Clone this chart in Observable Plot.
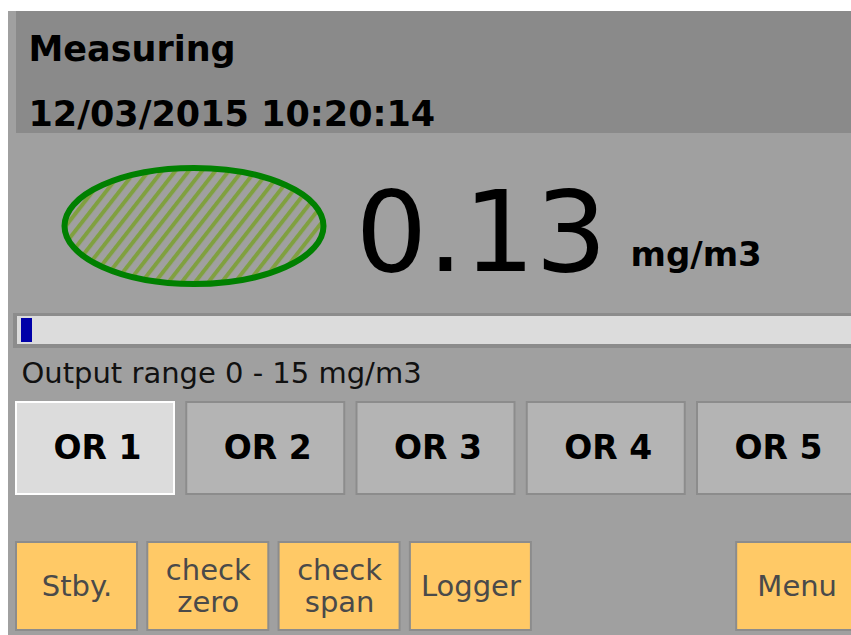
<!DOCTYPE html>
<html><head><meta charset="utf-8">
<script src="https://cdn.jsdelivr.net/npm/d3@7"></script>
<script src="https://cdn.jsdelivr.net/npm/@observablehq/plot@0.6"></script>
<style>html,body{margin:0;padding:0;background:#fff;overflow:hidden} svg{display:block}</style>
</head><body><div id="chart"></div>
<script>
// ---- data ----
const statusTitle = ["Measuring"];
const timestamp = ["12/03/2015 10:20:14"];
const reading = [0.13];
const unit = ["mg/m3"];
const outputRange = [0, 15];
const rangeButtons = ["OR 1", "OR 2", "OR 3", "OR 4", "OR 5"];
const activeRange = "OR 1";
const actionButtons = ["Stby.", "check\nzero", "check\nspan", "Logger", "Menu"];

// ---- layout ----
const W = 851, H = 635;
const FONT = "'DejaVu Sans', sans-serif";
const orX0 = 16, orStep = 170.25, orW = 158, orY1 = 402, orY2 = 494;
const actSlots = [0, 1, 2, 3, 5.485];
const actX0 = 16, actStep = 131.3, actW = 121, actY1 = 542, actY2 = 630;
const gauge = d3.scaleLinear().domain(outputRange).range([21, 851]);
const gaugeMinW = 11;
const mid = (baseline, fs, lh = 1) => baseline - 0.32 * lh * fs;

function statusLamp(index, scales) {
  const sx = scales.x || (v => v), sy = scales.y || (v => v);
  const g = d3.create("svg:g");
  const pat = g.append("defs").append("pattern")
    .attr("id", "hatch").attr("patternUnits", "userSpaceOnUse")
    .attr("width", 10.5).attr("height", 10.5)
    .attr("patternTransform", "rotate(38)");
  pat.append("rect").attr("width", 10.5).attr("height", 10.5).attr("fill", "#a0a0a0");
  pat.append("line").attr("x1", 2).attr("x2", 2).attr("y1", -1).attr("y2", 11.5)
    .attr("stroke", "#80a040").attr("stroke-width", 4);
  g.append("ellipse")
    .attr("cx", sx(194)).attr("cy", sy(226))
    .attr("rx", 129.5).attr("ry", 58)
    .attr("fill", "url(#hatch)").attr("stroke", "#008000").attr("stroke-width", 6);
  return g.node();
}

const chart = Plot.plot({
  width: W, height: H, margin: 0,
  x: {domain: [0, W], range: [0, W], axis: null},
  y: {domain: [0, H], range: [0, H], axis: null},
  style: {background: "transparent", fontFamily: FONT, overflow: "hidden"},
  marks: [
    // backgrounds
    Plot.rect([0], {x1: 8, x2: W, y1: 11, y2: H, fill: "#a0a0a0"}),
    Plot.rect([0], {x1: 16, x2: W, y1: 11, y2: 133, fill: "#8a8a8a"}),
    // header texts
    Plot.text(statusTitle, {x: 28, y: mid(60, 35), text: d => d, textAnchor: "start",
      fontSize: 35, fontWeight: "bold", fill: "#000"}),
    Plot.text(timestamp, {x: 28, y: mid(125, 35), text: d => d, textAnchor: "start",
      fontSize: 35, fontWeight: "bold", fill: "#000"}),
    // status lamp
    statusLamp,
    // reading
    Plot.text(reading, {x: 355, y: mid(270, 113), text: d => d.toFixed(2), textAnchor: "start",
      fontSize: 113, fill: "#000"}),
    Plot.text(unit, {x: 630, y: mid(265, 34), text: d => d, textAnchor: "start",
      fontSize: 34, fontWeight: "bold", fill: "#000"}),
    // gauge
    Plot.rect([0], {x1: 13, x2: W + 5, y1: 313, y2: 348, fill: "#8c8c8c"}),
    Plot.rect([0], {x1: 17, x2: W + 5, y1: 316, y2: 344, fill: "#dcdcdc"}),
    Plot.rect(reading, {x1: gauge(outputRange[0]), x2: d => Math.max(gauge(d), gauge(outputRange[0]) + gaugeMinW),
      y1: 318, y2: 342, fill: "#0000a8"}),
    Plot.text([`Output range ${outputRange[0]} - ${outputRange[1]} ${unit[0]}`], {x: 21, y: mid(382, 29),
      text: d => d, textAnchor: "start", fontSize: 29, fill: "#111"}),
    // output range buttons
    Plot.rect(rangeButtons, {filter: d => d !== activeRange,
      x1: (d) => orX0 + rangeButtons.indexOf(d) * orStep, x2: (d) => orX0 + rangeButtons.indexOf(d) * orStep + orW,
      y1: orY1, y2: orY2, fill: "#b4b4b4", stroke: "#8c8c8c", strokeWidth: 2}),
    Plot.rect(rangeButtons, {filter: d => d === activeRange,
      x1: (d) => orX0 + rangeButtons.indexOf(d) * orStep, x2: (d) => orX0 + rangeButtons.indexOf(d) * orStep + orW,
      y1: orY1, y2: orY2, fill: "#dcdcdc", stroke: "#ffffff", strokeWidth: 2}),
    Plot.text(rangeButtons, {x: (d, i) => orX0 + i * orStep + orW / 2 + 2, y: mid(458, 33),
      text: d => d, fontSize: 33, fontWeight: "bold", fill: "#000"}),
    // action buttons
    Plot.rect(actionButtons, {x1: (d, i) => actX0 + actSlots[i] * actStep, x2: (d, i) => actX0 + actSlots[i] * actStep + actW,
      y1: actY1, y2: actY2, fill: "#ffc966", stroke: "#8c8c8c", strokeWidth: 2}),
    Plot.text(actionButtons, {x: (d, i) => actX0 + actSlots[i] * actStep + actW / 2, y: 585,
      text: d => d, fontSize: 29, lineHeight: 1.1, fill: "#4a4a4a"})
  ]
});
document.getElementById("chart").appendChild(chart);
</script>
</body></html>
